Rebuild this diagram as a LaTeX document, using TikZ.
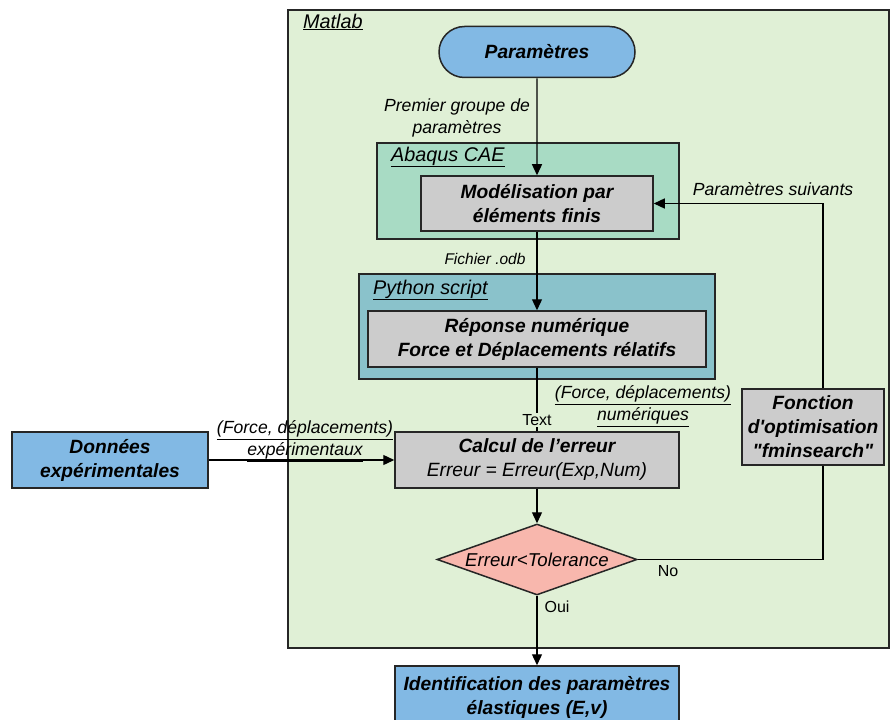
\documentclass[tikz,border=0pt]{standalone}
\usepackage{fontspec}
\setmainfont{Liberation Sans}
\usetikzlibrary{arrows.meta,positioning,shapes.geometric,shapes.misc}
\definecolor{matlabbg}{RGB}{224,240,214}
\definecolor{abaqusbg}{RGB}{168,219,196}
\definecolor{pythonbg}{RGB}{138,194,203}
\definecolor{stepgray}{RGB}{204,204,204}
\definecolor{endblue}{RGB}{130,185,228}
\definecolor{testred}{RGB}{248,183,173}
\newcommand{\boxfont}{\fontsize{19.2}{24}\selectfont\bfseries\itshape}
\tikzset{
  zone/.style={draw=black!85,line width=1.5pt,inner sep=0pt},
  zonelbl/.style={anchor=west,font=\fontsize{19.8}{22}\selectfont\itshape,inner sep=0pt},
  stepbox/.style={draw=black!85,line width=1.5pt,fill=stepgray,align=center,font=\boxfont,inner sep=0pt},
  endbox/.style={stepbox,fill=endblue},
  test/.style={diamond,draw=black!85,line width=1.5pt,fill=testred,shape aspect=2.8,inner sep=0pt,
    font=\fontsize{18.6}{20}\selectfont\itshape},
  flow/.style={line width=1.3pt,-{Triangle[length=11pt,width=10pt]}},
  link/.style={line width=1.3pt},
  lbl/.style={font=\fontsize{17.6}{22}\selectfont\itshape,align=center,inner sep=0pt},
  tag/.style={font=\fontsize{16}{18}\selectfont,inner sep=1pt},
}

\begin{document}
\begin{tikzpicture}[x=1pt,y=-1pt]
    \useasboundingbox (0,0) rectangle (890,719);
    % ---------------- containers ----------------
    \node[zone,fill=matlabbg,minimum width=601,minimum height=638] (matlab) at (588.5,329) {};
    \node[zonelbl] (matlabname) at (303,22) {\underline{Matlab}};
    \node[zone,fill=abaqusbg,minimum width=302,minimum height=96] (abaqus) at (528,191) {};
    \node[zonelbl] (abaqusname) at (391,157) {\underline{Abaqus CAE}};
    \node[zone,fill=pythonbg,minimum width=356,minimum height=105] (python) at (537,326.5) {};
    \node[zonelbl] (pythonname) at (373,290) {\underline{Python script}};
    % ---------------- steps ----------------
    \node[endbox,rounded rectangle,minimum width=196,minimum height=51] (param) at (537,52) {Paramètres};
    \node[stepbox,minimum width=232,minimum height=55] (model) at (537,203.5) {Modélisation par\\éléments finis};
    \node[stepbox,minimum width=338,minimum height=56] (reponse) at (537,339) {Réponse numérique\\Force et Déplacements rélatifs};
    \node[stepbox,minimum width=284,minimum height=56] (calcul) at (537,460)
      {Calcul de l’erreur\\{\mdseries Erreur = Erreur(Exp,Num)}};
    \node[stepbox,minimum width=142,minimum height=76] (fonction) at (813,427)
      {Fonction\\d\textquotesingle optimisation\\\textquotedbl fminsearch\textquotedbl};
    \node[test,minimum width=200,minimum height=71] (tol) at (537,559.5) {Erreur<Tolerance};
    \node[endbox,minimum width=284,minimum height=62] (ident) at (537,697)
      {Identification des paramètres\\élastiques (E,v)};
    \node[endbox,minimum width=196,minimum height=56] (donnees) at (110,460) {Données\\expérimentales};
    % ---------------- connectors ----------------
    \draw[flow] (param) -- (model);
    \node[lbl] (first) at (457,118) {Premier groupe de\\paramètres};
    \draw[flow] (model) -- (reponse);
    \node[tag,font=\fontsize{15.5}{18}\selectfont\itshape] (odb) at (485,259) {Fichier .odb};
    \draw[link] (reponse) -- (calcul);
    \node[tag,fill=matlabbg] (txt) at (537,420) {Text};
    \node[lbl] (numlbl) at (643,406) {\underline{(Force, déplacements)}\\\underline{numériques}};
    \draw[flow] (calcul) -- (tol);
    \draw[flow] (tol) -- (ident);
    \node[tag] (oui) at (557,607) {Oui};
    % loop back through the optimiser
    \coordinate (loopx) at (823,0);
    \draw[link] (tol.east) -- (tol.east -| loopx) -- (loopx |- fonction.south);
    \node[tag] (no) at (668,571) {No};
    \draw[flow] (loopx |- fonction.north) |- (model.east);
    \node[lbl] (next) at (773,189) {Paramètres suivants};
    % experimental data
    \draw[flow] (donnees) -- (calcul);
    \node[lbl] (explbl) at (305,441) {\underline{(Force, déplacements)}\\\underline{expérimentaux}};
\end{tikzpicture}
\end{document}
